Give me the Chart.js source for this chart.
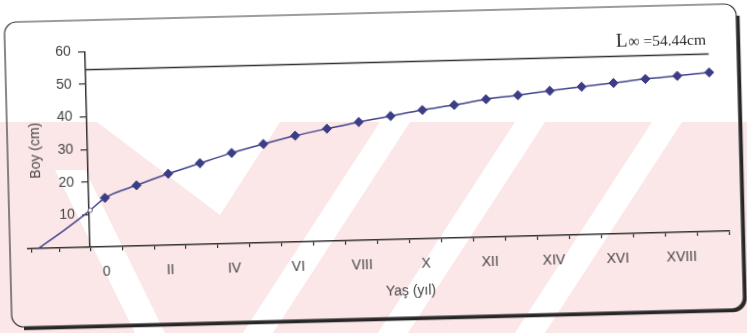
<!DOCTYPE html>
<html>
<head>
<meta charset="utf-8">
<script src="https://cdn.jsdelivr.net/npm/chart.js@4.4.1/dist/chart.umd.min.js"></script>
<style>
  html, body { margin: 0; padding: 0; background: #fff; overflow: hidden; }
  #stage { position: relative; width: 747px; height: 333px; }
  #wm { position: absolute; left: 0; top: 0; }
  #frame { position: absolute; left: 0; top: 0; width: 747px; height: 333px;
           transform: rotate(-1.45deg); transform-origin: 373.5px 166.5px; }
</style>
</head>
<body>
<div id="stage">
  <canvas id="wm" width="747" height="333"></canvas>
  <div id="frame"><canvas id="growth" width="747" height="333"></canvas></div>
</div>
<script>
// Mean length at age (von Bertalanffy growth)
const ages    = [0, 1, 2, 3, 4, 5, 6, 7, 8, 9, 10, 11, 12, 13, 14, 15, 16, 17, 18, 19];
const lengths = [15.0, 18.6, 21.9, 24.9, 27.8, 30.3, 32.6, 34.5, 36.3, 37.9,
                 39.5, 40.8, 42.3, 43.3, 44.4, 45.4, 46.3, 47.3, 48.0, 48.8];
// back-extrapolated part of the curve (to t0, where length is zero)
const extAges    = [-2.12, -1.3, -0.47];
const extLengths = [0, 5.4, 11.3];
const Linf = 54.44;
const LinfSpan = [-0.5, 19];

// axis labelling
const labelAges   = [0, 2, 4, 6, 8, 10, 12, 14, 16, 18];
const romanLabels = ['0', 'II', 'IV', 'VI', 'VIII', 'X', 'XII', 'XIV', 'XVI', 'XVIII'];
const tickMarks   = [-2.33, -1.45, -0.5, 0.5, 1.5, 2.5, 3.5, 4.5, 5.5, 6.5, 7.5, 8.5, 9.5,
                     10.5, 11.5, 12.5, 13.5, 14.5, 15.5, 16.5, 17.5, 18.5, 19.5];
const yAxisAt   = -0.5;   // the length axis crosses the age axis here
const yLabelsAt = -0.95;  // right edge of the length tick labels
const yTitle = 'Boy (cm)';
const xTitle = 'Yaş (yıl)';

// ---- faint background stamp ----
(function () {
  const c = document.getElementById('wm').getContext('2d');
  const poly = (pts) => { c.beginPath(); pts.forEach((p, i) => i ? c.lineTo(p[0], p[1]) : c.moveTo(p[0], p[1])); c.closePath(); c.fill(); };
  c.fillStyle = '#fce7e8';
  c.fillRect(0, 122, 747, 211);
  c.fillStyle = '#ffffff';
  poly([[97, 122], [280, 122], [220, 215]]);
  poly([[55, 170], [85, 170], [165, 333], [135, 333]]);
  [395, 530, 667].forEach(x0 => {
    const d = 0.65 * 211;
    poly([[x0 - 15, 122], [x0 + 15, 122], [x0 + 15 - d, 333], [x0 - 15 - d, 333]]);
  });
})();

const curve = extAges.map((a, i) => ({ x: a, y: extLengths[i] }))
  .concat(ages.map((a, i) => ({ x: a, y: lengths[i] })));
const asymptote = LinfSpan.map(a => ({ x: a, y: Linf }));

const AXIS = '#333333';
const TEXT = '#444444';
const SANS = '"Liberation Sans", Arial, sans-serif';
const SERIF = '"Liberation Serif", "Times New Roman", serif';

// rounded frame with a heavy lower/right edge, plus axis titles and the L-infinity note
const framePlugin = {
  id: 'frame',
  beforeDraw(chart) {
    const ctx = chart.ctx;
    const L = 8, T = 13, R = 740, B = 318, r = 12;
    ctx.save();
    ctx.strokeStyle = '#262626';
    ctx.lineWidth = 3.5;
    ctx.beginPath();
    ctx.moveTo(R + 1.5, T + r);
    ctx.lineTo(R + 1.5, B - r + 1.5);
    ctx.arcTo(R + 1.5, B + 1.5, R - r + 1.5, B + 1.5, r);
    ctx.lineTo(L + r, B + 1.5);
    ctx.stroke();
    ctx.strokeStyle = '#3a3a3a';
    ctx.lineWidth = 1.2;
    ctx.beginPath();
    ctx.roundRect(L, T, R - L, B - T, r);
    ctx.stroke();
    ctx.restore();
  },
  afterDraw(chart) {
    const ctx = chart.ctx;
    const xs = chart.scales.x, ys = chart.scales.y;
    ctx.save();
    ctx.fillStyle = TEXT;
    ctx.textAlign = 'center';
    ctx.textBaseline = 'middle';
    ctx.font = '14px ' + SANS;
    // y title
    ctx.save();
    ctx.translate(xs.getPixelForValue(yAxisAt) - 52, ys.getPixelForValue(30));
    ctx.rotate(-Math.PI / 2);
    ctx.fillText(yTitle, 0, 0);
    ctx.restore();
    // x title, centred on the age range
    ctx.fillText(xTitle, xs.getPixelForValue(9.5), chart.chartArea.bottom + 52);
    // asymptote label
    ctx.fillStyle = '#2a2a2a';
    const partA = 'L', partB = '\u221E =' + Linf.toFixed(2) + 'cm';
    ctx.font = '19px ' + SERIF;
    const wA = ctx.measureText(partA).width;
    ctx.font = '15.5px ' + SERIF;
    const wB = ctx.measureText(partB).width;
    const cx = xs.getPixelForValue(17.5), cy = ys.getPixelForValue(60) + 8;
    const x0 = cx - (wA + wB) / 2;
    ctx.textAlign = 'left';
    ctx.textBaseline = 'alphabetic';
    ctx.font = '19px ' + SERIF;
    ctx.fillText(partA, x0, cy);
    ctx.font = '15.5px ' + SERIF;
    ctx.fillText(partB, x0 + wA + 1, cy);
    ctx.restore();
  }
};

const isExt = (c) => c.raw && c.raw.x < 0;

new Chart(document.getElementById('growth'), {
  type: 'line',
  data: {
    datasets: [
      {
        data: curve,
        borderColor: '#41438c',
        borderWidth: 1.5,
        cubicInterpolationMode: 'monotone',
        pointStyle: (c) => isExt(c) ? 'circle' : 'rectRot',
        pointRadius: (c) => isExt(c) ? (c.raw.x === extAges[extAges.length - 1] ? 2.2 : 0) : 4.6,
        pointBackgroundColor: (c) => isExt(c) ? '#ffffff' : '#3b3d85',
        pointBorderColor: (c) => isExt(c) ? '#666' : '#3b3d85',
        pointBorderWidth: 1,
        clip: false
      },
      {
        data: asymptote,
        borderColor: '#303030',
        borderWidth: 1.5,
        pointRadius: 0,
        clip: false
      }
    ]
  },
  options: {
    responsive: false,
    animation: false,
    events: [],
    layout: { padding: { left: 25.9, right: 19.6, top: 44.5, bottom: 47.3 } },
    plugins: { legend: { display: false }, tooltip: { enabled: false } },
    scales: {
      x: {
        type: 'linear',
        position: 'bottom',
        min: -2.45, max: 19.5,
        afterBuildTicks: (s) => { s.ticks = tickMarks.map(v => ({ value: v })); },
        ticks: { display: false },
        grid: { drawOnChartArea: false, drawTicks: true, tickLength: 4, color: AXIS, lineWidth: 1.2 },
        border: { display: true, color: AXIS, width: 1.5 }
      },
      x2: {
        type: 'linear',
        position: 'bottom',
        min: -2.45, max: 19.5,
        afterBuildTicks: (s) => { s.ticks = labelAges.map(v => ({ value: v })); },
        ticks: {
          callback: (v) => romanLabels[labelAges.indexOf(v)],
          font: { family: SANS, size: 14 },
          color: TEXT, padding: 12.5, maxRotation: 0, autoSkip: false
        },
        grid: { display: false, drawTicks: false },
        border: { display: false }
      },
      y: {
        type: 'linear',
        position: { x: yAxisAt },
        min: 0, max: 60,
        ticks: { stepSize: 10, display: false },
        grid: { drawOnChartArea: false, drawTicks: true, tickLength: 6, color: AXIS, lineWidth: 1.2 },
        border: { display: true, color: AXIS, width: 1.5 }
      },
      yLabels: {
        type: 'linear',
        axis: 'y',
        position: { x: yLabelsAt },
        min: 0, max: 60,
        ticks: {
          stepSize: 10,
          callback: (v) => v === 0 ? '' : v,
          font: { family: SANS, size: 14 },
          color: TEXT
        },
        grid: { display: false, drawTicks: false },
        border: { display: false }
      }
    }
  },
  plugins: [framePlugin]
});
</script>
</body>
</html>
